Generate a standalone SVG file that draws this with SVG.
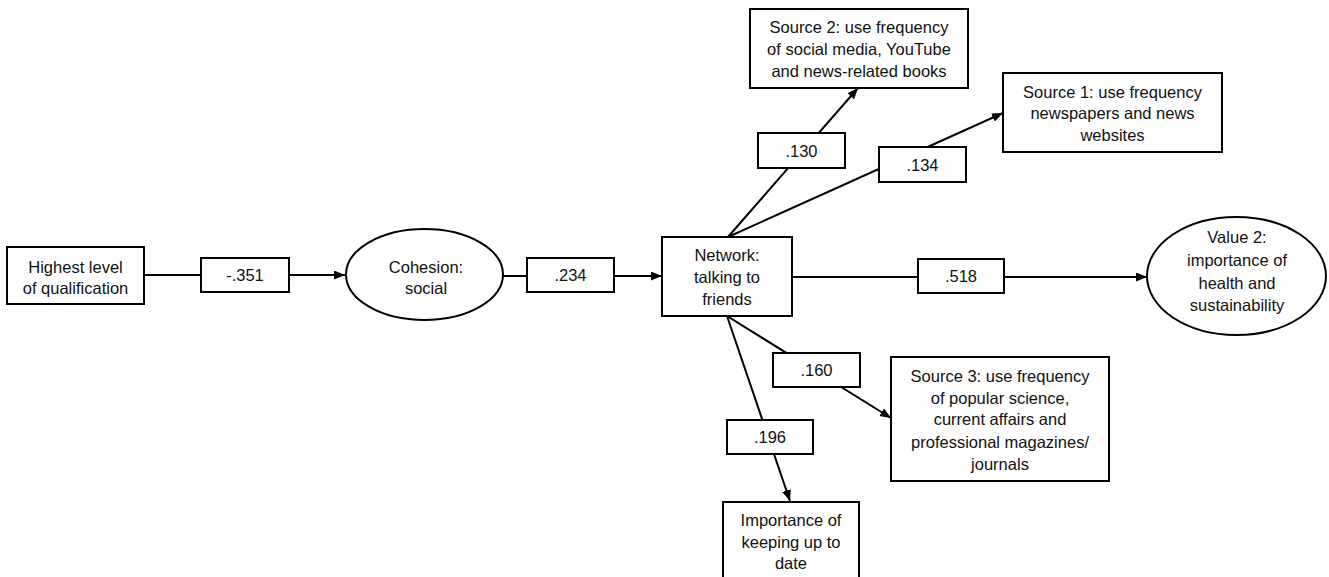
<svg xmlns="http://www.w3.org/2000/svg" width="1329" height="577" viewBox="0 0 1329 577">
<style>
.box{fill:#fff;stroke:#000;stroke-width:2}
.lbl{fill:#fff;stroke:#000;stroke-width:2}
.edge{stroke:#000;stroke-width:2;fill:none}
text{font-family:"Liberation Sans",Arial,sans-serif;font-size:16.5px;fill:#111;text-anchor:middle}
</style>
<defs>
<marker id="arr" markerUnits="userSpaceOnUse" markerWidth="12" markerHeight="10" refX="11" refY="4.5" orient="auto">
<path d="M0,0 L11,4.5 L0,9 z" fill="#000"/>
</marker>
</defs>
<rect width="1329" height="577" fill="#fff"/>
<g id="connectors">
<line class="edge" x1="144" y1="275" x2="345" y2="275" marker-end="url(#arr)"/>
<line class="edge" x1="503" y1="276" x2="662" y2="276" marker-end="url(#arr)"/>
<line class="edge" x1="728" y1="237" x2="858" y2="88" marker-end="url(#arr)"/>
<line class="edge" x1="728" y1="237" x2="1003" y2="113" marker-end="url(#arr)"/>
<line class="edge" x1="792" y1="277" x2="1147" y2="277" marker-end="url(#arr)"/>
<line class="edge" x1="727" y1="316" x2="891" y2="418" marker-end="url(#arr)"/>
<line class="edge" x1="727" y1="316" x2="790" y2="501" marker-end="url(#arr)"/>
<g id="label-351"><rect class="lbl" x="201" y="258" width="88" height="34"/><text x="245" y="281">-.351</text></g>
<g id="label-234"><rect class="lbl" x="527" y="258" width="87" height="34"/><text x="570.5" y="281">.234</text></g>
<g id="label-130"><rect class="lbl" x="758" y="133" width="87" height="35"/><text x="801.5" y="157">.130</text></g>
<g id="label-134"><rect class="lbl" x="879" y="147" width="87" height="35"/><text x="922.5" y="171">.134</text></g>
<g id="label-518"><rect class="lbl" x="918" y="259" width="86" height="34"/><text x="961" y="282">.518</text></g>
<g id="label-160"><rect class="lbl" x="773" y="353" width="87" height="34"/><text x="816.5" y="376">.160</text></g>
<g id="label-196"><rect class="lbl" x="727" y="420" width="86" height="34"/><text x="770" y="443">.196</text></g>
</g>
<g id="node-qualification">
<rect class="box" x="7" y="247" width="137" height="57"/>
<text x="75.5" y="273">Highest level</text>
<text x="75.5" y="294">of qualification</text>
</g>
<g id="node-cohesion">
<ellipse class="box" cx="424.5" cy="274.5" rx="78.5" ry="45.5"/>
<text x="426" y="273">Cohesion:</text>
<text x="426" y="294">social</text>
</g>
<g id="node-network">
<rect class="box" x="662" y="237" width="130" height="79"/>
<text x="727" y="261">Network:</text>
<text x="727" y="283">talking to</text>
<text x="727" y="305">friends</text>
</g>
<g id="node-source2">
<rect class="box" x="750" y="9" width="218" height="79"/>
<text x="859" y="33">Source 2: use frequency</text>
<text x="859" y="55">of social media, YouTube</text>
<text x="859" y="77">and news-related books</text>
</g>
<g id="node-source1">
<rect class="box" x="1003" y="73" width="219" height="79"/>
<text x="1112.5" y="98">Source 1: use frequency</text>
<text x="1112.5" y="119">newspapers and news</text>
<text x="1112.5" y="141">websites</text>
</g>
<g id="node-value2">
<ellipse class="box" cx="1236.5" cy="276" rx="89.5" ry="59"/>
<text x="1237" y="243">Value 2:</text>
<text x="1237" y="266">importance of</text>
<text x="1237" y="289">health and</text>
<text x="1237" y="311">sustainability</text>
</g>
<g id="node-source3">
<rect class="box" x="891" y="357" width="218" height="124"/>
<text x="1000" y="382">Source 3: use frequency</text>
<text x="1000" y="404">of popular science,</text>
<text x="1000" y="425">current affairs and</text>
<text x="1000" y="448">professional magazines/</text>
<text x="1000" y="470">journals</text>
</g>
<g id="node-importance">
<rect class="box" x="723" y="502" width="136" height="90"/>
<text x="791" y="526">Importance of</text>
<text x="791" y="548">keeping up to</text>
<text x="791" y="569">date</text>
</g>
</svg>
